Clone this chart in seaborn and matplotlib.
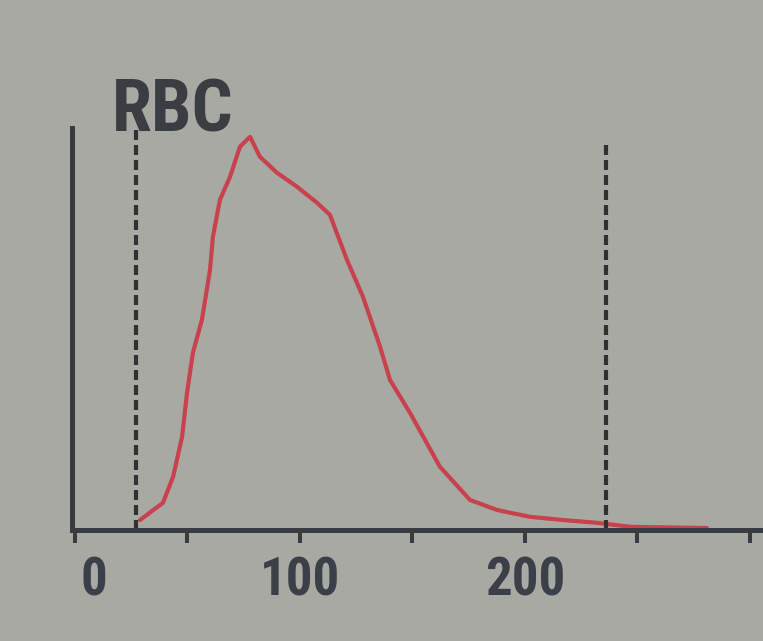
import matplotlib
matplotlib.use("Agg")
import matplotlib.pyplot as plt
from matplotlib import font_manager
from matplotlib.transforms import ScaledTranslation
import seaborn as sns
import pandas as pd

# RBC volume distribution (fL) and relative cell counts
cell_volume = [28.9, 39.1, 43.6, 47.6, 49.8, 52.4, 56.4, 60.0, 61.3, 64.4,
               68.9, 73.3, 77.8, 82.2, 89.8, 98.7, 107.6, 113.3, 120.9, 128.0,
               135.6, 140.0, 148.9, 162.2, 175.6, 187.6, 202.2, 216.9, 232.0,
               246.7, 280.9]
cell_count = [2.5, 6.8, 13.3, 23.3, 34.3, 44.3, 52.5, 65.0, 73.3, 82.5,
              88.3, 95.8, 98.3, 93.3, 89.3, 85.8, 81.8, 78.8, 67.5, 58.3,
              45.8, 37.5, 29.3, 15.8, 7.5, 5.0, 3.3, 2.5, 1.8,
              0.8, 0.5]

# Discriminator positions (fL) and their heights
discriminators = [27, 236]
discriminator_tops = [100.0, 97.5]

tick_positions = [0, 50, 100, 150, 200, 250, 300]
tick_labels = ["0", "", "100", "", "200", "", ""]

title = "RBC"

sns.set_theme(style="ticks")

names = {f.name for f in font_manager.fontManager.ttflist}
family = next((n for n in ("Roboto Condensed", "Liberation Sans Narrow", "PT Sans Narrow")
               if n in names), "Liberation Sans")
plt.rcParams["font.family"] = [family, "DejaVu Sans"]

bg = "#a9a9a4"
ink = "#383b3f"
curve_color = "#c8424e"

fig = plt.figure(figsize=(7.63, 6.41), dpi=100, facecolor=bg)
ax = fig.add_axes([72 / 763, 111 / 641, 691 / 763, 402 / 641], facecolor=bg)

df = pd.DataFrame({"volume": cell_volume, "count": cell_count})
sns.lineplot(data=df, x="volume", y="count", ax=ax, color=curve_color,
             linewidth=3.0, solid_joinstyle="round", solid_capstyle="round")

for xv, top in zip(discriminators, discriminator_tops):
    ax.plot([xv, xv], [0, top], color="#2e3233", linewidth=3.0,
            linestyle=(0, (2.4, 1.2)), dash_capstyle="butt")

ax.set_xlim(-1.33, 305.8)
ax.set_ylim(0, 100.5)
ax.set_xlabel("")
ax.set_ylabel("")

for side in ("top", "right"):
    ax.spines[side].set_visible(False)
for side in ("left", "bottom"):
    ax.spines[side].set_color(ink)
    ax.spines[side].set_linewidth(3.6)
    ax.spines[side].set_capstyle("projecting")

ax.set_yticks([])
ax.set_xticks(tick_positions)
ax.set_xticklabels(tick_labels)
ax.tick_params(axis="x", direction="out", length=9, width=2.9, color=ink,
               pad=9, labelsize=38, labelcolor="#3b3f47")
for lab in ax.get_xticklabels():
    lab.set_fontweight("bold")
# shift the "0" label slightly right of the axis corner
zero = ax.get_xticklabels()[0]
zero.set_transform(zero.get_transform() + ScaledTranslation(0.19, 0, fig.dpi_scale_trans))

fig.text(112 / 763, (641 - 131) / 641, title, fontsize=52, fontweight="bold",
         color="#3a3d42", ha="left", va="baseline")

fig.savefig("out.png", dpi=100, facecolor=bg)
